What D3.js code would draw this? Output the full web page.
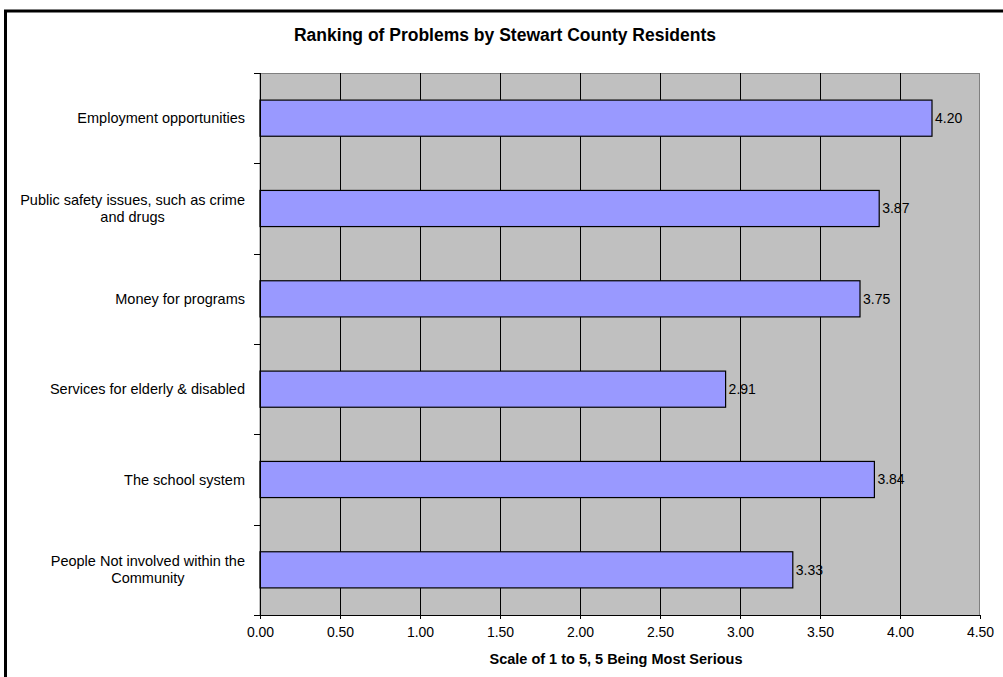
<!DOCTYPE html>
<html>
<head>
<meta charset="utf-8">
<script src="https://cdn.jsdelivr.net/npm/d3@7"></script>
<style>
  html, body { margin: 0; padding: 0; background: #ffffff; overflow: hidden; }
  svg { display: block; font-family: Arial, "Liberation Sans", sans-serif; }
</style>
</head>
<body>
<svg id="chart" width="1003" height="677"></svg>
<script>
// Survey results: average seriousness rating per problem
const categories = [
  ["Employment opportunities"],
  ["Public safety issues, such as crime", "and drugs"],
  ["Money for programs"],
  ["Services for elderly & disabled"],
  ["The school system"],
  ["People Not involved within the", "Community"]
];
const values = [4.20, 3.87, 3.75, 2.91, 3.84, 3.33];
const xTicks = [0, 0.5, 1, 1.5, 2, 2.5, 3, 3.5, 4, 4.5];
const title = "Ranking of Problems by Stewart County Residents";
const xTitle = "Scale of 1 to 5, 5 Being Most Serious";

const svg = d3.select("#chart");
const plot = { left: 260, right: 980, top: 73, bottom: 615 };
const labelSize = 14.5;

// Outer chart frame: only the left and top edges fall inside the view
svg.append("path")
  .attr("d", "M5.5,700 L5.5,11 L1010,11")
  .attr("fill", "none")
  .attr("stroke", "#000").attr("stroke-width", 3);

const x = d3.scaleLinear().domain([0, 4.5]).range([plot.left, plot.right]);
const y = d3.scaleBand()
  .domain(d3.range(categories.length))
  .range([plot.top, plot.bottom])
  .paddingInner(0.6).paddingOuter(0.3);

// Plot background
svg.append("rect")
  .attr("x", plot.left).attr("y", plot.top + 0.5)
  .attr("width", plot.right - plot.left - 0.5).attr("height", plot.bottom - plot.top)
  .attr("fill", "#c0c0c0")
  .attr("stroke", "#808080").attr("stroke-width", 1);

// Vertical gridlines
svg.append("g")
  .selectAll("line")
  .data(xTicks.slice(1, -1))
  .join("line")
  .attr("x1", d => Math.round(x(d)) + 0.5).attr("x2", d => Math.round(x(d)) + 0.5)
  .attr("y1", plot.top).attr("y2", plot.bottom)
  .attr("stroke", "#000").attr("stroke-width", 1);

// Bars
svg.append("g")
  .selectAll("rect")
  .data(values)
  .join("rect")
  .attr("x", x(0))
  .attr("y", (d, i) => y(i))
  .attr("width", d => x(d) - x(0))
  .attr("height", y.bandwidth())
  .attr("fill", "#9999ff")
  .attr("stroke", "#000").attr("stroke-width", 1.2);

// Value labels
svg.append("g")
  .selectAll("text")
  .data(values)
  .join("text")
  .attr("x", d => x(d) + 3)
  .attr("y", (d, i) => y(i) + y.bandwidth() / 2)
  .attr("dy", "0.35em")
  .attr("font-size", 14)
  .attr("fill", "#000")
  .text(d => d.toFixed(2));

// X axis
const xAxis = d3.axisBottom(x)
  .tickValues(xTicks)
  .tickFormat(d3.format(".2f"))
  .tickSize(4).tickPadding(8);
const gx = svg.append("g")
  .attr("transform", `translate(0,${plot.bottom})`)
  .call(xAxis);
gx.select(".domain").attr("stroke", "#000");
gx.selectAll("text").attr("font-size", 14).attr("font-family", "Arial, 'Liberation Sans', sans-serif").attr("fill", "#000");

// Y axis line with ticks at category boundaries
const boundaries = d3.range(categories.length + 1).map(i => plot.top + i * (plot.bottom - plot.top) / categories.length);
svg.append("line")
  .attr("x1", plot.left + 0.5).attr("x2", plot.left + 0.5)
  .attr("y1", plot.top).attr("y2", plot.bottom)
  .attr("stroke", "#000");
svg.append("g")
  .selectAll("line")
  .data(boundaries)
  .join("line")
  .attr("x1", plot.left - 6).attr("x2", plot.left)
  .attr("y1", d => Math.round(d) + 0.5).attr("y2", d => Math.round(d) + 0.5)
  .attr("stroke", "#000");

// Category labels: lines centred on the longest line, right-aligned block
const labelRight = 245;
const lineH = 17;
categories.forEach((lines, i) => {
  const cy = y(i) + y.bandwidth() / 2;
  const t = svg.append("text")
    .attr("font-size", labelSize)
    .attr("fill", "#000");
  lines.forEach((ln, k) => {
    t.append("tspan")
      .attr("x", 0)
      .attr("y", cy + (k - (lines.length - 1) / 2) * lineH)
      .attr("dy", "0.35em")
      .text(ln);
  });
  let maxW = 0;
  t.selectAll("tspan").each(function () { maxW = Math.max(maxW, this.getComputedTextLength()); });
  const cx = labelRight - maxW / 2;
  t.attr("text-anchor", "middle").selectAll("tspan").attr("x", cx);
});

// Titles
svg.append("text")
  .attr("x", 505).attr("y", 41)
  .attr("text-anchor", "middle")
  .attr("font-size", 17.5).attr("font-weight", "bold")
  .text(title);
svg.append("text")
  .attr("x", 616).attr("y", 664)
  .attr("text-anchor", "middle")
  .attr("font-size", 14.5).attr("font-weight", "bold")
  .text(xTitle);
</script>
</body>
</html>
